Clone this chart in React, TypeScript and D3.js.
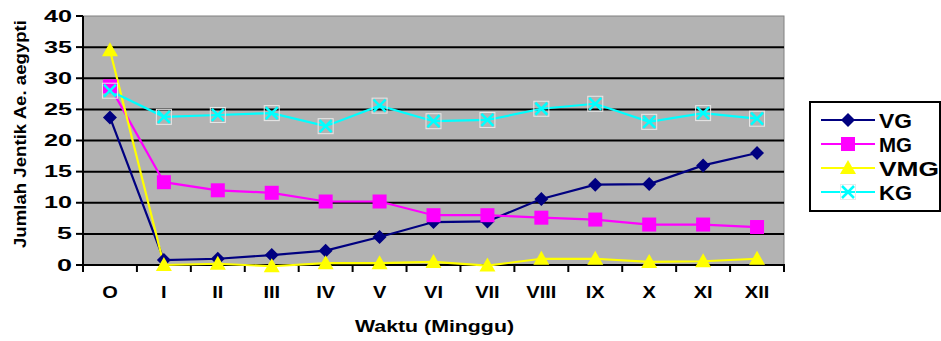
import React from "react";
import * as d3 from "d3";

const categories = ["O", "I", "II", "III", "IV", "V", "VI", "VII", "VIII", "IX", "X", "XI", "XII"];
const vg = [23.7, 0.8, 1.0, 1.6, 2.3, 4.5, 6.9, 7.0, 10.6, 12.9, 13.0, 16.0, 18.0];
const mg = [28.7, 13.3, 12.0, 11.6, 10.2, 10.2, 8.0, 8.0, 7.6, 7.3, 6.5, 6.5, 6.1];
const vmg = [34.5, 0.0, 0.2, -0.2, 0.3, 0.3, 0.5, -0.1, 1.0, 1.0, 0.5, 0.6, 1.0];
const kg = [28.0, 23.8, 24.1, 24.4, 22.3, 25.6, 23.1, 23.3, 25.1, 25.9, 23.0, 24.4, 23.5];
const yTicks = [0, 5, 10, 15, 20, 25, 30, 35, 40];
const seriesNames = ["VG", "MG", "VMG", "KG"];
const yTitle = "Jumlah Jentik Ae. aegypti";
const xTitle = "Waktu (Minggu)";

const FONT = "'Liberation Sans', Arial, sans-serif";
const colors = ["#000080", "#ff00ff", "#ffff00", "#00ffff"];

const left = 83, right = 784, top = 16, bottom = 265;

function Marker({ type, x, y }: { type: number; x: number; y: number }) {
  if (type === 0) {
    const s = 7;
    return <path d={`M${x},${y - s}L${x + s},${y}L${x},${y + s}L${x - s},${y}Z`} fill="#000080" />;
  }
  if (type === 1) {
    return <rect x={x - 7} y={y - 7} width={14} height={14} fill="#ff00ff" />;
  }
  if (type === 2) {
    return <path d={`M${x},${y - 8}L${x + 8},${y + 6}L${x - 8},${y + 6}Z`} fill="#ffff00" />;
  }
  const s = 6;
  return (
    <g>
      <rect x={x - 7.5} y={y - 7.5} width={15} height={15} fill="none" stroke="#e8e8e8" strokeWidth={1} />
      <path d={`M${x - s},${y - s}L${x + s},${y + s}M${x - s},${y + s}L${x + s},${y - s}`} stroke="#00ffff" strokeWidth={2.5} />
    </g>
  );
}

export default function App() {
  const x = d3.scaleBand<string>().domain(categories).range([left, right]);
  const y = d3.scaleLinear().domain([0, 40]).range([bottom, top]);
  const cx = (c: string) => (x(c) as number) + x.bandwidth() / 2;
  const all = [vg, mg, vmg, kg];
  const line = d3
    .line<number>()
    .x((_, i) => cx(categories[i]))
    .y((d) => y(d));

  const boundaries = categories.map((c) => x(c) as number).concat([right]);

  return (
    <div style={{ position: "absolute", left: 0, top: 0 }}>
      <svg width={941} height={341} style={{ display: "block" }} fontFamily={FONT} fontWeight="bold">
        <rect width={941} height={341} fill="#fff" />
        <rect x={left} y={top} width={right - left} height={bottom - top} fill="#b3b3b3" stroke="#808080" strokeWidth={1} />
        {yTicks.filter((t) => t > 0 && t < 40).map((t) => (
          <line key={t} x1={left} x2={right} y1={y(t)} y2={y(t)} stroke="#000" strokeWidth={2} />
        ))}
        {/* axes */}
        <line x1={left} x2={left} y1={top} y2={bottom + 1} stroke="#000" strokeWidth={2} />
        <line x1={left - 1} x2={right + 1} y1={bottom} y2={bottom} stroke="#000" strokeWidth={2} />
        {yTicks.map((t) => (
          <g key={t}>
            <line x1={left - 7} x2={left} y1={y(t)} y2={y(t)} stroke="#000" strokeWidth={2} />
            <text
              x={72}
              y={y(t) + 5.5}
              textAnchor="end"
              fontSize={16}
              textLength={String(t).length === 2 ? 28 : 15}
              lengthAdjust="spacingAndGlyphs"
            >
              {t}
            </text>
          </g>
        ))}
        {boundaries.map((b, i) => (
          <line key={i} x1={b} x2={b} y1={bottom} y2={bottom + 7} stroke="#000" strokeWidth={2} />
        ))}
        {categories.map((c) => (
          <g key={c} transform={`translate(${cx(c)},298) scale(1.25,1)`}>
            <text textAnchor="middle" fontSize={16}>{c}</text>
          </g>
        ))}
        <text x={434.5} y={332} textAnchor="middle" fontSize={17} textLength={159} lengthAdjust="spacingAndGlyphs">
          {xTitle}
        </text>
        <text
          transform={`translate(26,134) rotate(-90)`}
          textAnchor="middle"
          fontSize={17}
          textLength={228}
          lengthAdjust="spacingAndGlyphs"
        >
          {yTitle}
        </text>
        {all.map((s, k) => (
          <path key={k} d={line(s) || ""} fill="none" stroke={colors[k]} strokeWidth={2.2} />
        ))}
        {all.map((s, k) =>
          s.map((v, i) => <Marker key={`${k}-${i}`} type={k} x={cx(categories[i])} y={y(v)} />)
        )}
        {/* legend */}
        <rect x={810} y={102} width={130} height={109} fill="#fff" stroke="#000" strokeWidth={2} />
        {seriesNames.map((n, k) => {
          const ly = 120 + k * 24;
          return (
            <g key={n}>
              <line x1={821} x2={875} y1={ly} y2={ly} stroke={colors[k]} strokeWidth={2.2} />
              <Marker type={k} x={848} y={ly} />
              <text
                x={879}
                y={ly + 8}
                fontSize={21}
                textLength={n.length === 2 ? 33 : 60}
                lengthAdjust="spacingAndGlyphs"
              >
                {n}
              </text>
            </g>
          );
        })}
      </svg>
    </div>
  );
}
